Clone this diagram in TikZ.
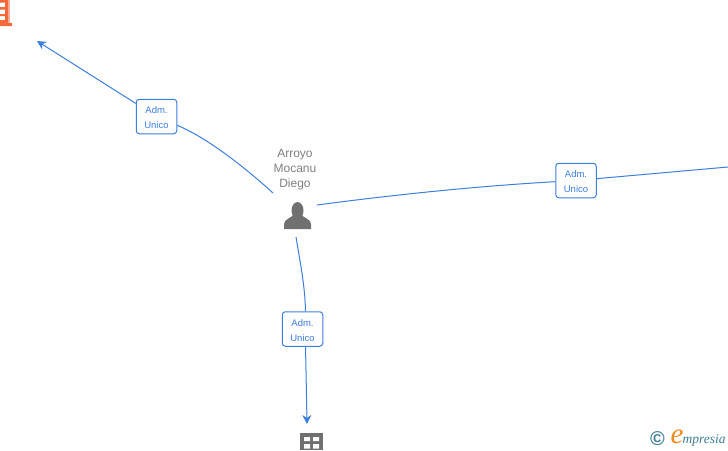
\documentclass[tikz,border=0pt]{standalone}
\usepackage{fontspec}
\setmainfont{Liberation Sans}
\newfontfamily\logofont{Liberation Serif}
\usetikzlibrary{arrows.meta}
\definecolor{linkblue}{HTML}{3C7FDD}
\definecolor{icongray}{HTML}{707070}
\definecolor{namegray}{HTML}{808080}
\definecolor{iconorange}{HTML}{F4693A}
\definecolor{logoteal}{HTML}{3F7F93}
\definecolor{logoorange}{HTML}{F08A1D}
\newcommand{\admtext}{\raisebox{0pt}[\dimexpr\height+2.5pt][\depth]{\shortstack[c]{Adm.\\[5pt]Unico}}}
\tikzset{
	admbox/.style={draw=linkblue,fill=white,rounded corners=3pt,line width=1pt,minimum width=40.5pt,minimum height=34.5pt,inner sep=0pt,align=center,text=linkblue,font=\fontsize{9.5}{15}\selectfont},
	link/.style={draw=linkblue,line width=1pt},
	linkend/.style={-{Stealth[length=9pt,width=9pt]}},
	namelabel/.style={text=namegray,align=center,font=\fontsize{12}{15}\selectfont,inner sep=0pt}
}
\begin{document}
\begin{tikzpicture}[x=1pt,y=-1pt,line join=round]
	\useasboundingbox (0,0) rectangle (728,450);
	\fill[white] (0,0) rectangle (728,450);
	% ends of the links
	\coordinate (perUL) at (273,193);
	\coordinate (perR) at (317,205);
	\coordinate (perD) at (296,237);
	\coordinate (topEnd) at (37,41);
	\coordinate (rightEnd) at (728,167);
	\coordinate (downEnd) at (307,424);
	% boxes
	\node[admbox] (admUL) at (156.5,116.5) {\admtext};
	\node[admbox] (admR) at (576,180.5) {\admtext};
	\node[admbox] (admD) at (302.5,329) {\admtext};
	% links
	\draw[link] (perUL) .. controls (240,163) and (205,137) .. (admUL);
	\draw[link,linkend] (admUL) -- (topEnd);
	\draw[link] (perR) .. controls (400,194) and (480,186) .. (admR);
	\draw[link] (admR) -- (rightEnd);
	\draw[link] (perD) .. controls (300,262) and (305,285) .. (admD.north -| 305.5,0);
	\draw[link,linkend] (admD.south -| 305.5,0) .. controls (306,370) and (306.5,395) .. (downEnd);
	% person
	\node[namelabel] (perName) at (295,169.5) {Arroyo\\Mocanu\\Diego};
	\fill[icongray] (297.5,210.5) ellipse (6pt and 8.5pt);
	\fill[icongray] (284,229) -- (284,224) .. controls (284,219) and (292,218) .. (294,214) -- (301,214) .. controls (303,218) and (311,219) .. (311,224) -- (311,229) -- cycle;
	% building at the bottom
	\fill[icongray] (300,433) rectangle (323,450);
	\fill[white] (304,437) rectangle (310,441) (313,437) rectangle (319,441) (304,444) rectangle (310,448.5) (313,444) rectangle (319,448.5);
	% building at the top
	\fill[iconorange] (5,0) rectangle (8,26) (0,23) rectangle (12,26) (0,20) rectangle (8,26);
	\fill[iconorange!55] (8,0) rectangle (10,23);
	\fill[iconorange] (0,0) rectangle (5,2.5) (0,7) rectangle (5,9.5) (0,14) rectangle (5,16);
	% logo
	\node[text=logoteal,inner sep=0pt,font=\bfseries\fontsize{20}{20}\selectfont] (logoC) at (657.5,439) {©};
	\node[text=logoorange,inner sep=0pt,font=\logofont\itshape\fontsize{29}{29}\selectfont] (logoE) at (677,437) {e};
	\node[text=logoteal,inner sep=0pt,anchor=base west,font=\logofont\itshape\fontsize{13.5}{13.5}\selectfont] (logoT) at (682.5,443) {mpresia};
\end{tikzpicture}
\end{document}
